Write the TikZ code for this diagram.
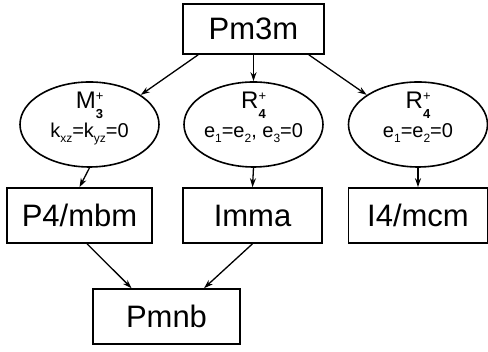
\documentclass[tikz,border=0pt]{standalone}
\usepackage{fontspec}
\setsansfont{Liberation Sans}
\usetikzlibrary{arrows.meta, positioning, shapes.geometric, calc}
\newcommand{\irrep}[3]{#1\rlap{\raisebox{8.5pt}{\fontsize{13}{13}\selectfont #2}}\smash{\raisebox{-10pt}{\fontsize{13}{13}\selectfont\bfseries #3}}}
\newcommand{\lowidx}[1]{\raisebox{-5pt}{\fontsize{12}{12}\selectfont #1}}
\tikzset{
  every picture/.style={font=\sffamily, line width=1.5pt},
  grp/.style={draw, line width=1.6pt, minimum height=55pt, inner sep=0pt, font=\sffamily\fontsize{31}{31}\selectfont},
  oval/.style={draw, ellipse, line width=1.6pt, minimum width=139pt, minimum height=85pt, inner sep=0pt},
  head/.style={anchor=base, inner sep=0pt, font=\sffamily\fontsize{24}{24}\selectfont},
  cond/.style={anchor=base, inner sep=0pt, font=\sffamily\fontsize{20}{20}\selectfont},
  arrow/.style={-{Stealth[length=9pt, width=6pt]}, line width=1.3pt},
}
\begin{document}
\begin{tikzpicture}[x=1pt, y=1pt]
  \useasboundingbox (0,0) rectangle (488,352);
  % parent group
  \node[grp, minimum width=141pt, minimum height=50pt] (pm) at (253.5,323) {Pm3m};
  % order parameters
  \node[oval] (m3) at (89.5,227.5) {};
  \node[oval] (r4) at (253.5,227.5) {};
  \node[oval] (r4b) at (418,227.5) {};
  \node[head] (m3h) at ([yshift=15.5pt]m3.center) {\irrep{M}{+}{3}};
  \node[cond] (m3c) at ([yshift=-13.5pt]m3.center) {k\lowidx{xz}=k\lowidx{yz}=0};
  \node[head] (r4h) at ([yshift=15.5pt]r4.center) {\irrep{R}{+}{4}};
  \node[cond] (r4c) at ([yshift=-13.5pt]r4.center) {e\lowidx{1}=e\lowidx{2}, e\lowidx{3}=0};
  \node[head] (r4bh) at ([yshift=15.5pt]r4b.center) {\irrep{R}{+}{4}};
  \node[cond] (r4bc) at ([yshift=-13.5pt]r4b.center) {e\lowidx{1}=e\lowidx{2}=0};
  % subgroups
  \node[grp, minimum width=145pt] (p4) at (79.5,136.5) {P4/mbm};
  \node[grp, minimum width=139pt] (imma) at (252.5,136.5) {Imma};
  \node[grp, minimum width=139pt] (i4) at (418,136.5) {I4/mcm};
  \node[grp, minimum width=147pt] (pmnb) at (166.5,35.5) {Pmnb};
  \draw[arrow] (pm.205) -- (m3.30);
  \draw[arrow] (pm.south) -- (r4.north);
  \draw[arrow] (pm.335) -- (r4b.150);
  \draw[arrow] (m3.south) -- (p4.north);
  \draw[arrow] (r4.south) -- (imma.north);
  \draw[arrow] (r4b.south) -- (i4.north);
  \draw[arrow] (p4.-75) -- (pmnb.141);
  \draw[arrow] (imma.south) -- (pmnb.37);
\end{tikzpicture}
\end{document}
